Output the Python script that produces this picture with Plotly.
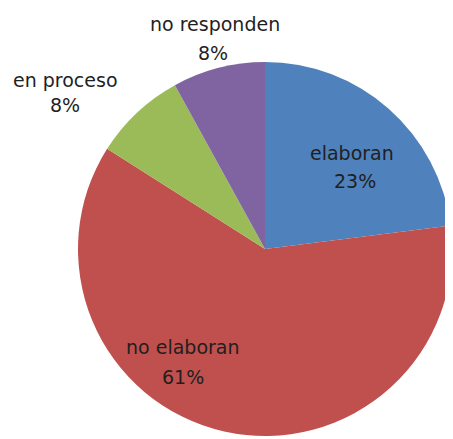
import plotly.graph_objects as go

labels = ["elaboran", "no elaboran", "en proceso", "no responden"]
values = [23, 61, 8, 8]
colors = ["#4F81BD", "#C0504D", "#9BBB59", "#8064A2"]

W, H = 453, 439
OFF = 8  # page body margin shifts the figure by 8px
# label anchor (screen pixel) for name line and percent line of each slice
label_xy = [(352, 153), (183, 347), (66, 80), (215, 24)]
pct_xy = [(355, 181), (183, 377), (65, 105), (213, 53)]

cx, cy, r = 265 - OFF, 249 - OFF, 187

fig = go.Figure(
    go.Pie(
        labels=labels,
        values=values,
        sort=False,
        direction="clockwise",
        rotation=0,
        marker=dict(colors=colors, line=dict(width=0)),
        textinfo="none",
        domain=dict(
            x=[(cx - r) / W, (cx + r) / W],
            y=[1 - (cy + r) / H, 1 - (cy - r) / H],
        ),
        hoverinfo="label+percent",
    )
)

total = sum(values)
font = dict(family="DejaVu Sans", size=19, color="#1f1f1f")
annotations = []
for lbl, v, (lx, ly), (px, py) in zip(labels, values, label_xy, pct_xy):
    pct = f"{round(v / total * 100)}%"
    for txt, x, y in ((lbl, lx, ly), (pct, px, py)):
        annotations.append(
            dict(
                text=txt,
                x=(x - OFF) / W,
                y=1 - (y - OFF) / H,
                xref="paper",
                yref="paper",
                xanchor="center",
                yanchor="middle",
                showarrow=False,
                font=font,
            )
        )

fig.update_layout(
    width=W,
    height=H,
    margin=dict(l=0, r=0, t=0, b=0),
    showlegend=False,
    paper_bgcolor="white",
    annotations=annotations,
)
fig.write_html("out.html")
